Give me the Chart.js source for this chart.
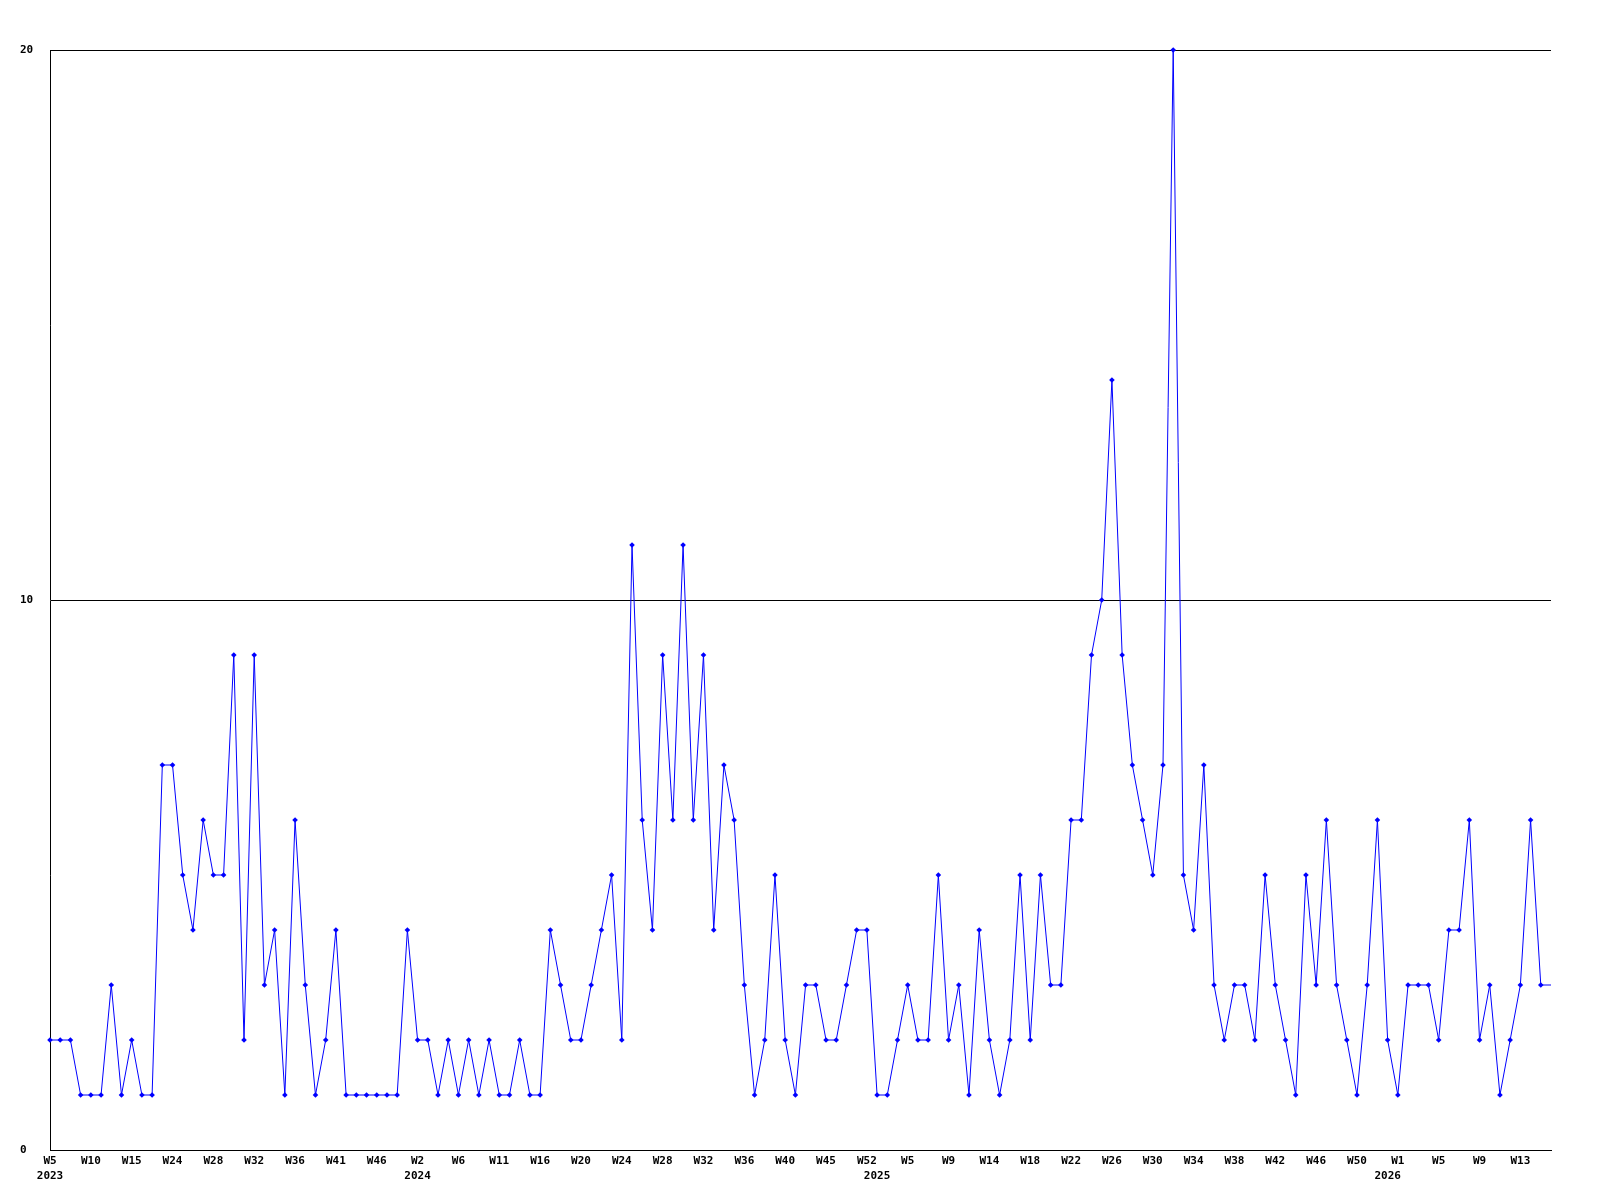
<!DOCTYPE html>
<html>
<head>
<meta charset="utf-8">
<title>Weekly count</title>
<script src="https://cdn.jsdelivr.net/npm/chart.js@4.4.1/dist/chart.umd.min.js"></script>
<style>
    body { margin: 0; background: #ffffff; }
    #chart { display: block; }
</style>
</head>
<body>
<canvas id="chart" width="1600" height="1200"></canvas>
<script>
// Etiquetas de semana (una cada 4 puntos)
var weekTicks = ['W5', 'W10', 'W15', 'W24', 'W28', 'W32', 'W36', 'W41', 'W46',
    'W2', 'W6', 'W11', 'W16', 'W20', 'W24', 'W28', 'W32', 'W36', 'W40', 'W45', 'W52',
    'W5', 'W9', 'W14', 'W18', 'W22', 'W26', 'W30', 'W34', 'W38', 'W42', 'W46', 'W50',
    'W1', 'W5', 'W9', 'W13'];

// Año y posicion del punto donde empieza
var years = ['2023', '2024', '2025', '2026'];
var yearStart = [0, 36, 81, 131];

// Valores por semana
var counts = [
    2, 2, 2, 1, 1, 1, 3, 1, 2, 1, 1, 7, 7, 5, 4, 6, 5, 5, 9, 2,
    9, 3, 4, 1, 6, 3, 1, 2, 4, 1, 1, 1, 1, 1, 1, 4, 2, 2, 1, 2,
    1, 2, 1, 2, 1, 1, 2, 1, 1, 4, 3, 2, 2, 3, 4, 5, 2, 11, 6, 4,
    9, 6, 11, 6, 9, 4, 7, 6, 3, 1, 2, 5, 2, 1, 3, 3, 2, 2, 3, 4,
    4, 1, 1, 2, 3, 2, 2, 5, 2, 3, 1, 4, 2, 1, 2, 5, 2, 5, 3, 3,
    6, 6, 9, 10, 14, 9, 7, 6, 5, 7, 20, 5, 4, 7, 3, 2, 3, 3, 2, 5,
    3, 2, 1, 5, 3, 6, 3, 2, 1, 3, 6, 2, 1, 3, 3, 3, 2, 4, 4, 6,
    2, 3, 1, 2, 3, 6, 3, 3
];

var yTicks = [0, 10, 20];

// Construir etiquetas del eje X
var labels = [];
counts.forEach(function(v, i) {
    var week = (i % 4 === 0 && weekTicks[i / 4]) ? weekTicks[i / 4] : '';
    var y = yearStart.indexOf(i);
    if (y >= 0) {
        labels.push([week, years[y]]);
    } else {
        labels.push(week);
    }
});

// La ultima semana va sin marcador
var radii = counts.map(function(v, i) {
    return i === counts.length - 1 ? 0 : 2.8;
});

var tickFont = { family: '"DejaVu Sans Mono", "Liberation Mono", monospace', size: 11, weight: 'bold', lineHeight: '15px' };

new Chart(document.getElementById('chart'), {
    type: 'line',
    data: {
        labels: labels,
        datasets: [{
            data: counts,
            borderColor: '#0000ff',
            backgroundColor: '#0000ff',
            borderWidth: 1,
            tension: 0,
            pointStyle: 'rectRot',
            pointRadius: radii,
            pointBorderWidth: 0,
            pointHoverRadius: radii,
            clip: false
        }]
    },
    options: {
        responsive: false,
        animation: false,
        events: [],
        layout: {
            padding: { left: 20, right: 49, top: 50, bottom: 0 }
        },
        plugins: {
            legend: { display: false },
            tooltip: { enabled: false }
        },
        scales: {
            x: {
                grid: { display: false, drawTicks: false },
                border: { display: true, color: '#000000', width: 1 },
                ticks: {
                    autoSkip: false,
                    maxRotation: 0,
                    minRotation: 0,
                    padding: 4,
                    color: '#000000',
                    font: tickFont
                },
                afterFit: function(scale) { scale.height = 50; }
            },
            y: {
                min: yTicks[0],
                max: yTicks[yTicks.length - 1],
                grid: { color: '#000000', lineWidth: 1, drawTicks: false },
                border: { display: true, color: '#000000', width: 1 },
                ticks: {
                    stepSize: yTicks[1] - yTicks[0],
                    crossAlign: 'far',
                    padding: 0,
                    color: '#000000',
                    font: tickFont
                },
                afterFit: function(scale) { scale.width = 30; }
            }
        }
    }
});
</script>
</body>
</html>
